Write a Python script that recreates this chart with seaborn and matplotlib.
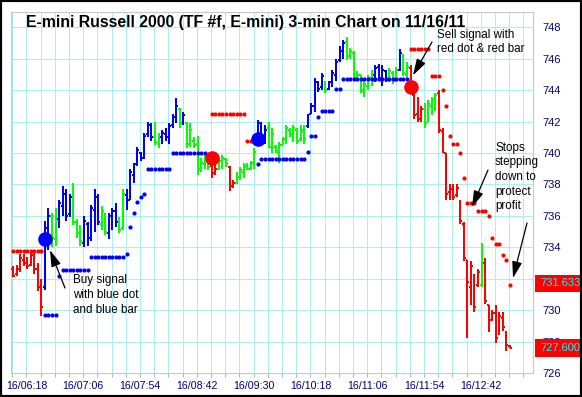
import matplotlib
matplotlib.use("Agg")
import matplotlib.pyplot as plt
import seaborn as sns
import numpy as np
import pandas as pd
from matplotlib.patches import Rectangle

# ---------------- data ----------------
title_text = "E-mini Russell 2000 (TF #f, E-mini) 3-min Chart on 11/16/11"
tick_labels = ["16/06:18", "16/07:06", "16/07:54", "16/08:42", "16/09:30",
               "16/10:18", "16/11:06", "16/11:54", "16/12:42"]
price_ticks = [726, 728, 730, 732, 734, 736, 738, 740, 742, 744, 746, 748]
hidden_price_ticks = [732]

bar_high = [732.8, 732.9, 733.6, 733.6, 733.4, 733.8, 733.8, 733.0, 732.0, 735.7,
            736.5, 736.2, 736.5, 737.0, 737.9, 737.7, 737.4, 738.1, 735.8, 735.4,
            736.0, 735.6, 736.7, 737.7, 737.4, 736.6, 736.2, 736.2, 736.5, 736.8,
            735.9, 737.7, 737.7, 739.0, 739.4, 740.4, 740.1, 741.3, 742.0, 741.9,
            742.0, 741.3, 741.5, 741.6, 741.9, 742.5, 743.5, 742.9, 742.6, 742.0,
            741.9, 741.0, 741.1, 739.7, 739.9, 739.7, 739.5, 739.4, 739.7, 739.9,
            739.7, 739.2, 738.3, 738.8, 739.1, 739.4, 739.4, 739.5, 740.3, 742.1,
            742.0, 741.8, 742.0, 741.6, 740.5, 740.7, 741.0, 741.8, 741.6, 741.8,
            741.6, 741.8, 741.8, 742.5, 743.2, 744.8, 744.6, 745.1, 744.6, 744.6,
            745.3, 746.0, 746.8, 747.2, 747.4, 746.7, 746.5, 745.2, 745.0, 744.6,
            745.0, 745.3, 745.6, 745.7, 745.6, 745.3, 745.4, 745.2, 745.5, 746.6,
            746.3, 745.8, 745.6, 743.8, 743.6, 743.0, 743.2, 743.4, 743.6, 743.8,
            744.0, 741.6, 740.0, 738.0, 738.0, 738.0, 737.0, 735.6, 733.2, 733.1,
            732.3, 732.6, 734.3, 733.3, 730.3, 730.0, 730.3, 729.9, 729.9, 728.7,
            727.8]
bar_low = [732.1, 732.2, 732.4, 732.8, 732.6, 732.8, 732.3, 731.2, 729.6, 731.3,
           733.8, 734.0, 734.1, 735.2, 736.0, 735.7, 735.9, 735.4, 734.6, 734.1,
           734.0, 734.1, 734.4, 735.0, 735.4, 735.1, 734.8, 734.5, 735.1, 735.3,
           734.9, 735.1, 736.4, 737.0, 738.1, 739.2, 739.5, 739.6, 741.0, 740.8,
           740.5, 740.3, 740.6, 740.8, 740.6, 741.6, 741.9, 741.6, 741.8, 740.3,
           740.4, 740.3, 738.6, 738.8, 739.0, 738.9, 738.4, 738.6, 738.9, 739.0,
           739.1, 737.6, 737.8, 738.0, 738.3, 738.4, 738.9, 738.9, 739.0, 740.5,
           740.8, 740.6, 740.3, 740.0, 740.0, 739.4, 740.5, 740.6, 741.0, 740.7,
           740.6, 740.8, 740.6, 741.6, 742.5, 742.6, 743.9, 744.0, 743.8, 744.0,
           744.2, 744.6, 745.8, 746.0, 745.9, 746.0, 744.6, 744.6, 743.8, 743.6,
           744.0, 744.3, 744.5, 744.6, 744.3, 744.5, 744.5, 744.4, 744.5, 745.2,
           744.9, 744.6, 744.0, 742.2, 742.0, 742.0, 741.6, 742.0, 742.4, 742.7,
           741.3, 740.0, 737.0, 737.0, 737.0, 737.2, 735.5, 733.1, 728.2, 730.3,
           729.9, 731.5, 731.5, 730.4, 728.6, 729.3, 727.9, 728.4, 728.7, 727.4,
           727.6]
bar_open = [732.6, 732.3, 732.6, 733.2, 733.0, 732.9, 733.5, 732.6, 731.5, 731.5,
            735.1, 736.0, 734.5, 735.8, 736.6, 737.4, 736.1, 737.3, 735.6, 734.9,
            734.3, 735.5, 734.6, 736.4, 737.2, 735.5, 736.1, 734.9, 735.9, 736.3,
            735.6, 735.2, 737.3, 737.0, 738.6, 739.3, 740.0, 739.8, 741.2, 741.7,
            741.0, 740.6, 741.0, 741.2, 741.0, 741.8, 742.2, 742.8, 742.0, 741.9,
            740.6, 740.8, 740.6, 739.0, 739.3, 739.6, 739.2, 738.8, 739.0, 739.4,
            739.6, 739.1, 737.9, 738.1, 738.5, 738.8, 739.2, 739.0, 739.3, 740.6,
            741.8, 741.0, 741.6, 740.4, 740.4, 740.1, 740.5, 740.8, 741.5, 741.2,
            741.5, 740.9, 741.5, 741.7, 742.5, 743.0, 744.4, 744.2, 744.5, 744.1,
            744.4, 745.0, 745.9, 746.5, 747.1, 746.2, 746.4, 744.8, 745.0, 744.0,
            744.3, 744.8, 745.0, 745.5, 744.8, 745.2, 744.7, 745.1, 744.7, 745.3,
            746.2, 745.0, 745.4, 743.7, 742.5, 742.2, 742.8, 742.0, 743.0, 743.3,
            743.8, 741.4, 740.0, 737.5, 737.7, 737.3, 736.9, 735.5, 733.2, 731.5,
            732.0, 731.6, 731.6, 733.0, 730.3, 729.4, 729.8, 728.5, 729.5, 728.6,
            727.7]
bar_close = [732.2, 732.7, 733.3, 733.0, 732.8, 733.5, 732.6, 731.5, 730.2, 735.2,
             736.0, 734.6, 736.2, 736.8, 737.5, 736.0, 737.2, 735.6, 734.9, 734.4,
             735.7, 734.4, 736.5, 737.4, 735.6, 736.3, 735.0, 736.0, 736.3, 735.6,
             735.1, 737.4, 736.8, 738.8, 739.2, 740.2, 739.7, 741.1, 741.8, 741.0,
             740.7, 741.1, 741.3, 741.0, 741.7, 742.3, 743.0, 741.9, 742.4, 740.6,
             741.5, 740.5, 739.0, 739.4, 739.7, 739.1, 738.7, 739.0, 739.5, 739.7,
             739.3, 737.8, 738.1, 738.6, 738.9, 739.2, 739.0, 739.4, 740.1, 741.9,
             741.0, 741.5, 740.5, 741.2, 740.1, 740.5, 740.9, 741.6, 741.2, 741.6,
             740.8, 741.6, 740.9, 742.4, 743.0, 744.5, 744.1, 744.9, 744.0, 744.5,
             745.1, 745.8, 746.6, 747.0, 746.1, 746.5, 744.8, 745.0, 744.0, 744.4,
             744.8, 745.1, 745.4, 744.8, 745.3, 744.7, 745.2, 744.6, 745.3, 746.4,
             745.1, 745.5, 744.2, 742.4, 742.2, 742.8, 741.9, 743.1, 743.4, 743.7,
             741.5, 740.2, 737.4, 737.8, 737.2, 737.8, 735.7, 733.3, 731.8, 732.8,
             730.2, 732.4, 732.2, 730.6, 729.2, 729.8, 728.2, 729.6, 728.9, 727.8,
             727.6]
bar_trend = list("rrrrrrrrrbbggbbbbgggbbbbbggbbbggbbbbbbbbggbbbbbgbgggggggrrgggrrggggggbbb"
                 "gggggggggggbbbbbgbbbbbggggggggbbbbgggbggrrrrggggrrrrrrrrrrrrgrrrrrrrr")

long_stop_bar = [9, 10, 11, 12, 13, 14, 15, 16, 17, 18, 19, 20, 21,
                 22, 23, 24, 25, 26, 27, 28, 29, 30, 31, 32, 33, 34, 35, 36, 37,
                 38, 39, 40, 41, 42, 43, 44, 45, 46, 47, 48, 49, 50, 51, 52, 53, 54,
                 69, 70, 71, 72, 73, 74, 75, 76, 77, 78, 79, 80, 81, 82, 83, 84, 85,
                 86, 87, 88, 89, 90, 91, 92, 93, 94, 95, 96, 97, 98, 99, 100, 101,
                 102, 103, 104, 105, 106, 107, 108, 109, 110, 111]
long_stop_price = [729.7, 729.7, 729.7, 729.7, 732.2, 732.55, 732.55, 732.55, 732.55,
                   732.55, 732.55, 732.55, 732.55,
                   733.4, 733.4, 733.4, 733.4, 733.4, 733.4, 733.4, 733.4, 733.4, 733.4,
                   733.6, 735.3, 736.2, 736.9, 737.2, 737.4,
                   739.0, 739.0, 739.0, 739.0, 739.0, 739.0, 739.0,
                   740.0, 740.0, 740.0, 740.0, 740.0, 740.0, 740.0, 740.0, 740.0, 740.0,
                   739.3, 739.6, 739.6, 739.6, 739.6, 739.6, 739.6, 739.6, 739.6, 739.6,
                   739.6, 739.6, 739.6, 739.6, 740.05, 741.1, 741.1,
                   742.3, 742.7, 742.7, 742.7, 742.7, 744.1, 744.1,
                   744.7, 744.7, 744.7, 744.7, 744.7, 744.7, 744.7, 744.7, 744.7,
                   744.7, 744.7, 744.7, 744.7, 744.7, 744.7, 744.7, 744.7, 744.7, 744.7]
short_stop_bar = [0, 1, 2, 3, 4, 5, 6, 7, 8,
                  56, 57, 58, 59, 60, 61, 62, 63, 64, 65, 66, 67, 68,
                  112, 113, 114, 115, 116, 117, 118, 119, 120, 121, 122, 123, 124,
                  125, 126, 127, 128, 129, 130, 131, 132, 133, 134, 135, 136, 137,
                  138, 139, 140]
short_stop_price = [733.75, 733.75, 733.75, 733.75, 733.75, 733.75, 733.75, 733.75, 733.75,
                    742.5, 742.5, 742.5, 742.5, 742.5, 742.5, 742.5, 742.5, 742.5, 742.5,
                    740.8, 740.8, 740.8,
                    746.6, 746.6, 746.6, 746.6, 746.6, 746.6, 744.9, 744.9, 744.9,
                    744.0, 743.0, 741.1, 740.6, 740.6, 740.0, 738.4,
                    736.8, 736.8, 736.8, 736.3, 736.3, 736.3, 736.0, 734.6,
                    734.2, 734.2, 733.5, 733.2, 731.63]
buy_bar = [9, 69]
buy_price = [734.5, 740.9]
sell_bar = [56, 112]
sell_price = [739.7, 744.2]
stop_value_label = "731.633"
last_value_label = "727.600"

# ---------------- styling ----------------
sns.set_style("white")
plt.rcParams["font.family"] = ["Liberation Sans", "DejaVu Sans"]

W, H = 582, 397
NAVY = "#000080"
GRID = "#aaf0f0"
COL = {"b": "#0000ff", "g": "#00ff00", "r": "#ff0000"}


def fx(px):
    return px / W


def fy(py):
    return 1 - py / H


fig = plt.figure(figsize=(W / 100, H / 100), dpi=100)
fig.patch.set_facecolor("white")
ax = fig.add_axes([fx(11), fy(373), (533 - 11) / W, (373 - 11.7) / H])

df = pd.DataFrame({"bar": np.arange(len(bar_high)), "high": bar_high, "low": bar_low,
                   "open": bar_open, "close": bar_close,
                   "color": [COL[c] for c in bar_trend]})

ax.set_xlim((11 - 13) / 3.55, (533 - 13) / 3.55)
ax.set_ylim(726, 749)

# grid
grid_pos = np.arange(-0.2, 146.4, 4)
ax.set_xticks(grid_pos, minor=True)
ax.set_xticks(grid_pos[1::4][:len(tick_labels)])
ax.set_xticklabels(tick_labels)
ax.set_yticks(price_ticks)
ax.set_yticklabels(["" if p in hidden_price_ticks else str(p) for p in price_ticks])
ax.grid(False)
for g in grid_pos:
    ax.axvline(g, color=GRID, lw=0.75, zorder=0)
for p in price_ticks:
    ax.axhline(p, color=GRID, lw=0.75, zorder=0)

ax.yaxis.tick_right()
ax.tick_params(axis="y", length=0, pad=6.5, labelcolor=NAVY, labelsize=8)
ax.tick_params(axis="x", which="both", length=3, color="#b0b0b0", width=0.7,
               pad=2.8, labelcolor=NAVY, labelsize=7.7, bottom=True)
for s in ax.spines.values():
    s.set_color("#c8c8c8")
    s.set_linewidth(0.8)

# OHLC bars
ax.vlines(df["bar"], df["low"], df["high"], colors=df["color"], lw=1.45, zorder=3)
ax.hlines(df["open"], df["bar"] - 0.5, df["bar"], colors=df["color"], lw=1.45, zorder=3)
ax.hlines(df["close"], df["bar"], df["bar"] + 0.5, colors=df["color"], lw=1.45, zorder=3)

# trailing stops
sns.scatterplot(x=long_stop_bar, y=long_stop_price, color="#0000ff", s=9,
                linewidth=0, ax=ax, zorder=4, legend=False)
sns.scatterplot(x=short_stop_bar, y=short_stop_price, color="#ff0000", s=9,
                linewidth=0, ax=ax, zorder=4, legend=False)
# signals
sns.scatterplot(x=buy_bar, y=buy_price, color="#0000ff", s=110,
                linewidth=0, ax=ax, zorder=5, legend=False)
sns.scatterplot(x=sell_bar, y=sell_price, color="#ff0000", s=110,
                linewidth=0, ax=ax, zorder=5, legend=False)
ax.set_xlabel("")
ax.set_ylabel("")

# title
fig.text(fx(26), fy(23), title_text, fontsize=11.4, fontweight="bold",
         ha="left", va="center", color="black")

# annotations
TXT = dict(fontsize=8.4, ha="left", va="center", color="black", linespacing=1.3)
fig.text(fx(73), fy(295), "Buy signal\nwith blue dot\nand blue bar", **TXT)
fig.text(fx(437), fy(42), "Sell signal with\nred dot & red bar", **TXT)
fig.text(fx(495), fy(177), "Stops\nstepping\ndown to\nprotect\nprofit", **TXT)

AP = dict(arrowstyle="-|>,head_length=1.0,head_width=0.3", color="black", lw=0.9,
          mutation_scale=10, shrinkA=0, shrinkB=0)


def px2data(px, py):
    return ((px - 13) / 3.55, 748 - (py - 27) / 15.73)


for (sx, sy), (tx, ty) in [((65, 288), (50, 250)), ((432, 42), (413, 75)),
                           ((488, 170), (472, 207)), ((527, 223), (513, 278))]:
    ax.annotate("", xy=px2data(tx, ty), xycoords="data",
                xytext=(fx(sx), fy(sy)), textcoords="figure fraction",
                arrowprops=AP, zorder=6, annotation_clip=False)

# price boxes on the right
for (top, bot, lab) in [(275, 292, stop_value_label), (339, 357, last_value_label)]:
    fig.patches.append(Rectangle((fx(535), fy(bot)), (W - 535) / W, (bot - top) / H,
                                 transform=fig.transFigure, facecolor="#ff0000",
                                 edgecolor="none", zorder=2))
    fig.text(fx(540), fy((top + bot) / 2), lab, color="#00ffff", fontsize=8,
             ha="left", va="center", zorder=3)

# outer frame
fig.patches.append(Rectangle((0, 0), 1, 1, transform=fig.transFigure, fill=False,
                             edgecolor="black", lw=3, zorder=10))

fig.savefig("out.png", dpi=100, facecolor="white")
